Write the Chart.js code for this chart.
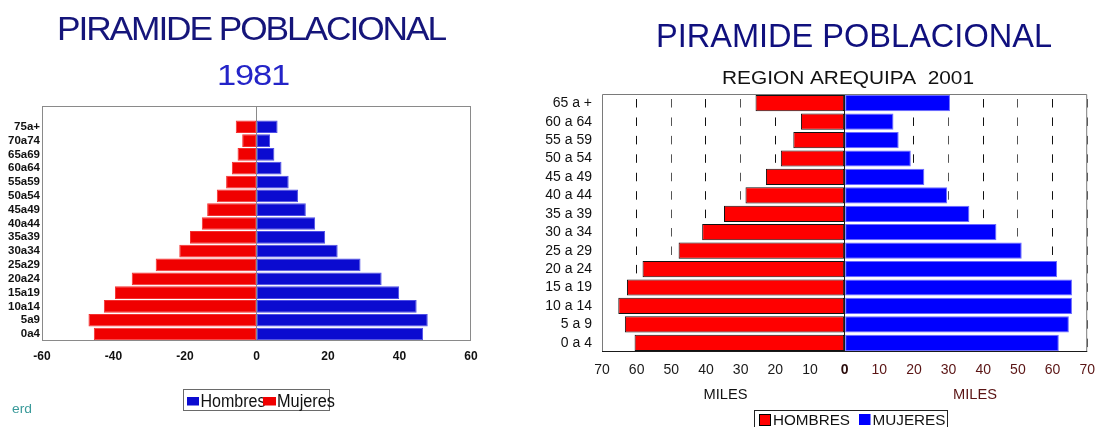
<!DOCTYPE html>
<html><head><meta charset="utf-8">
<script src="https://cdn.jsdelivr.net/npm/chart.js@4"></script>
<style>
html,body{margin:0;padding:0;background:#fff;}
#wrap{position:relative;width:1105px;height:427px;overflow:hidden;background:#fff;}
#c1{position:absolute;left:0;top:0;width:520px;height:427px;}
#c2{position:absolute;left:520px;top:0;width:585px;height:427px;}
</style></head><body>
<div id="wrap"><div id="c1"><canvas id="a"></canvas></div><div id="c2"><canvas id="b"></canvas></div></div>
<script>
// ---- 1981 pyramid (values in thousands) ----
const ageGroups1981 = ['0a4','5a9','10a14','15a19','20a24','25a29','30a34','35a39','40a44','45a49','50a54','55a59','60a64','65a69','70a74','75a+'];
const hombres1981 = [46.6,47.9,44.8,39.9,35.0,29.1,22.7,19.2,16.4,13.8,11.6,9.0,7.0,5.0,3.8,5.9];
const mujeres1981 = [45.5,47.0,42.7,39.6,34.9,28.2,21.6,18.6,15.3,13.8,11.1,8.5,6.9,5.3,4.0,5.8];
const ticks1981 = [-60,-40,-20,0,20,40,60];
const title1981 = 'PIRAMIDE POBLACIONAL';
const year1981 = '1981';
const legend1981 = ['Hombres','Mujeres'];
const note1981 = 'erd';

// ---- 2001 Arequipa pyramid (miles) ----
const ageGroups2001 = ['0 a 4','5 a 9','10 a 14','15 a 19','20 a 24','25 a 29','30 a 34','35 a 39','40 a 44','45 a 49','50 a 54','55 a 59','60 a 64','65 a +'];
const hombres2001 = [60.6,63.4,65.3,62.8,58.3,47.9,41.1,34.8,28.6,22.7,18.4,14.8,12.6,25.7];
const mujeres2001 = [61.8,64.7,65.6,65.6,61.3,51.1,43.8,36.0,29.6,23.0,19.1,15.6,14.1,30.4];
const ticks2001 = [-70,-60,-50,-40,-30,-20,-10,0,10,20,30,40,50,60,70];
const title2001 = 'PIRAMIDE POBLACIONAL';
const subtitle2001 = 'REGION AREQUIPA  2001';
const axisTitle2001 = 'MILES';
const legend2001 = ['HOMBRES','MUJERES'];

const FONT = "'Liberation Sans', Arial, Helvetica, sans-serif";

function drawText(ctx, text, x, y, font, color, align, targetWidth, spacing) {
  ctx.save();
  ctx.font = font;
  if (spacing !== undefined && 'letterSpacing' in ctx) ctx.letterSpacing = spacing + 'px';
  ctx.fillStyle = color;
  ctx.textBaseline = 'alphabetic';
  ctx.textAlign = align || 'left';
  const w = ctx.measureText(text).width;
  const s = targetWidth ? targetWidth / w : 1;
  ctx.translate(x, y);
  ctx.scale(s, 1);
  ctx.fillText(text, 0, 0);
  ctx.restore();
}

// ---------- Chart 1 ----------
const deco1 = {
  id: 'deco1',
  afterDraw(chart) {
    const ctx = chart.ctx, a = chart.chartArea;
    ctx.save();
    ctx.strokeStyle = '#8a8a8a'; ctx.lineWidth = 1;
    ctx.strokeRect(a.left + 0.5, a.top + 0.5, a.right - a.left - 1, a.bottom - a.top - 1);
    ctx.restore();
    drawText(ctx, title1981, 251, 40, '34px ' + FONT, '#15157a', 'center', 388, -2);
    drawText(ctx, year1981, 253, 85, '29px ' + FONT, '#2424c8', 'center', 72, -1);
    // legend
    const ds = chart.data.datasets;
    ctx.save();
    ctx.fillStyle = '#fff'; ctx.fillRect(183, 389.5, 147, 21);
    ctx.strokeStyle = '#6a6a6a'; ctx.lineWidth = 1;
    ctx.strokeRect(183.5, 389.5, 146, 21);
    ctx.restore();
    drawText(ctx, legend1981[0], 200.5, 407, '18px ' + FONT, '#111', 'left', 65);
    ctx.fillStyle = ds[0].backgroundColor; ctx.fillRect(187, 397, 12, 8.5);
    drawText(ctx, legend1981[1], 277, 407, '18px ' + FONT, '#111', 'left', 58);
    ctx.fillStyle = ds[1].backgroundColor; ctx.fillRect(263, 397, 13, 8.5);
    drawText(ctx, note1981, 12, 413, '13px ' + FONT, '#3a9a9a', 'left', 20);
  }
};

new Chart(document.getElementById('a'), {
  type: 'bar',
  data: {
    labels: [...ageGroups1981, ''],
    datasets: [
      { label: legend1981[0], data: [...hombres1981, null], backgroundColor: '#0b0bd0', borderColor: '#4d4de6', borderWidth: 1, borderSkipped: false, barPercentage: 0.92, categoryPercentage: 1 },
      { label: legend1981[1], data: [...mujeres1981.map(v => -v), null], backgroundColor: '#f00000', borderColor: '#f43030', borderWidth: 1, borderSkipped: false, barPercentage: 0.92, categoryPercentage: 1 }
    ]
  },
  options: {
    indexAxis: 'y',
    responsive: true, maintainAspectRatio: false, animation: false,
    layout: { padding: { left: 0, right: 49, top: 106, bottom: 56 } },
    plugins: { legend: { display: false }, tooltip: { enabled: false }, title: { display: false } },
    scales: {
      x: {
        type: 'linear', min: -60, max: 60, stacked: true,
        afterBuildTicks: s => { s.ticks = ticks1981.map(v => ({ value: v })); },
        afterFit: s => { s.height = 30; },
        grid: { drawTicks: false, color: c => (c.tick && c.tick.value === 0) ? '#8a8a8a' : 'rgba(0,0,0,0)' },
        border: { display: false },
        ticks: { padding: 8, autoSkip: false, color: '#111', font: { family: FONT, size: 12, weight: 'bold' } }
      },
      y: {
        stacked: true, reverse: true,
        afterFit: s => { s.width = 42; },
        grid: { display: false, drawTicks: false },
        border: { display: false },
        ticks: { padding: 2, autoSkip: false, color: '#111', font: { family: FONT, size: 11.5, weight: 'bold' } }
      }
    }
  },
  plugins: [deco1]
});

// ---------- Chart 2 ----------
const deco2 = {
  id: 'deco2',
  afterDatasetsDraw(chart) {
    const ctx = chart.ctx, a = chart.chartArea;
    const x0 = Math.round(chart.scales.x.getPixelForValue(0)) + 0.5;
    ctx.save();
    ctx.strokeStyle = '#1a1a1a'; ctx.lineWidth = 1;
    ctx.beginPath(); ctx.moveTo(x0 - 1, a.top); ctx.lineTo(x0 - 1, a.bottom); ctx.stroke();
    ctx.restore();
  },
  afterDraw(chart) {
    const ctx = chart.ctx, a = chart.chartArea;
    ctx.save();
    ctx.lineWidth = 1;
    ctx.strokeStyle = '#7a7a7a';
    ctx.beginPath();
    ctx.moveTo(a.left + 0.5, a.bottom); ctx.lineTo(a.left + 0.5, a.top + 0.5); ctx.lineTo(a.right - 0.5, a.top + 0.5); ctx.lineTo(a.right - 0.5, a.bottom);
    ctx.stroke();
    ctx.strokeStyle = '#1a1a1a';
    ctx.beginPath(); ctx.moveTo(a.left, a.bottom - 0.5); ctx.lineTo(a.right, a.bottom - 0.5); ctx.stroke();
    ctx.restore();
    drawText(ctx, title2001, 334, 47, '33px ' + FONT, '#10107e', 'center', 396);
    drawText(ctx, subtitle2001, 328, 84, '19px ' + FONT, '#111', 'center', 252);
    drawText(ctx, axisTitle2001, 205.5, 399, '14px ' + FONT, '#111', 'center', 44);
    drawText(ctx, axisTitle2001, 455, 399, '14px ' + FONT, '#5a1414', 'center', 44);
    // legend
    const ds = chart.data.datasets;
    ctx.save();
    ctx.strokeStyle = '#222'; ctx.lineWidth = 1;
    ctx.strokeRect(234.5, 410.5, 193, 30);
    ctx.fillStyle = ds[0].backgroundColor; ctx.fillRect(239, 414, 11.5, 11);
    ctx.strokeStyle = '#000'; ctx.strokeRect(239.5, 414.5, 11, 11);
    ctx.fillStyle = ds[1].backgroundColor; ctx.fillRect(339, 414, 11.5, 11);
    ctx.restore();
    drawText(ctx, legend2001[0], 253, 425, '15px ' + FONT, '#111', 'left', 77);
    drawText(ctx, legend2001[1], 352.5, 425, '15px ' + FONT, '#111', 'left', 73);
  }
};

new Chart(document.getElementById('b'), {
  type: 'bar',
  data: {
    labels: ageGroups2001,
    datasets: [
      { label: legend2001[0], data: hombres2001.map(v => -v), backgroundColor: '#ff0000', borderColor: '#111', borderWidth: 1, borderSkipped: false, barPercentage: 0.88, categoryPercentage: 1 },
      { label: legend2001[1], data: mujeres2001, backgroundColor: '#0000ff', borderColor: '#6a6aff', borderWidth: 1, borderSkipped: false, barPercentage: 0.88, categoryPercentage: 1 }
    ]
  },
  options: {
    indexAxis: 'y',
    responsive: true, maintainAspectRatio: false, animation: false,
    layout: { padding: { left: 0, right: 8, top: 94, bottom: 45 } },
    plugins: { legend: { display: false }, tooltip: { enabled: false }, title: { display: false } },
    scales: {
      x: {
        type: 'linear', min: -70, max: 70, stacked: true,
        afterBuildTicks: s => { s.ticks = ticks2001.map(v => ({ value: v })); },
        afterFit: s => { s.height = 30; },
        grid: { drawTicks: false, lineWidth: 1, color: c => (c.tick && (c.tick.value === -70 || c.tick.value === 0)) ? 'rgba(0,0,0,0)' : (Math.abs(c.tick.value) % 20 === 0 ? '#111111' : '#555555') },
        border: { display: false, dash: [8.5, 9.93], dashOffset: 13.4 },
        ticks: {
          padding: 10, autoSkip: false, maxRotation: 0,
          callback: v => String(Math.abs(v)),
          color: c => c.tick.value < 0 ? '#1a1a1a' : (c.tick.value === 0 ? '#2a0c0c' : '#5a1414'),
          font: c => ({ family: FONT, size: 14, weight: c.tick && c.tick.value === 0 ? 'bold' : 'normal' })
        }
      },
      y: {
        stacked: true, reverse: true,
        afterFit: s => { s.width = 82; },
        grid: { display: false, drawTicks: false },
        border: { display: false },
        ticks: { padding: 10, autoSkip: false, color: '#111', font: { family: FONT, size: 14 } }
      }
    }
  },
  plugins: [deco2]
});
</script>
</body></html>
